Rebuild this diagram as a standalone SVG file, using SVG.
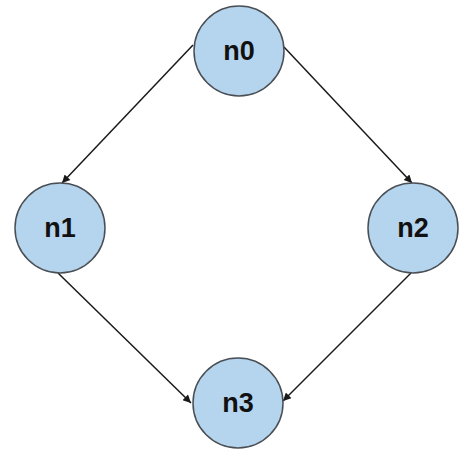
<svg xmlns="http://www.w3.org/2000/svg" width="467" height="454" viewBox="0 0 467 454">
<style>
.node circle{fill:#b5d5ee;stroke:#4a4f55;stroke-width:1.5}
.node text{font-family:"Liberation Sans",Arial,sans-serif;font-weight:bold;font-size:27px;fill:#111;text-anchor:middle;dominant-baseline:central}
.edge{stroke:#1a1a1a;stroke-width:1.5;fill:none;marker-end:url(#arr)}
</style>
<defs>
<marker id="arr" viewBox="0 0 10 10" refX="10" refY="5" markerWidth="10" markerHeight="8" orient="auto" markerUnits="userSpaceOnUse">
<path d="M0,0 L10,5 L0,10 z" fill="#1a1a1a"/>
</marker>
</defs>
<rect width="467" height="454" fill="#fff"/>
<g id="edges">
<line class="edge" x1="193" y1="45" x2="62" y2="183"/>
<line class="edge" x1="284" y1="47" x2="412" y2="183"/>
<line class="edge" x1="58" y1="273" x2="191" y2="403"/>
<line class="edge" x1="411" y1="273" x2="283" y2="401"/>
</g>
<g id="n0" class="node"><circle cx="239" cy="51" r="45"/><text x="239" y="51">n0</text></g>
<g id="n1" class="node"><circle cx="60" cy="228" r="45"/><text x="60" y="228">n1</text></g>
<g id="n2" class="node"><circle cx="413" cy="228" r="45"/><text x="413" y="228">n2</text></g>
<g id="n3" class="node"><circle cx="238" cy="403" r="45"/><text x="238" y="403">n3</text></g>
</svg>
